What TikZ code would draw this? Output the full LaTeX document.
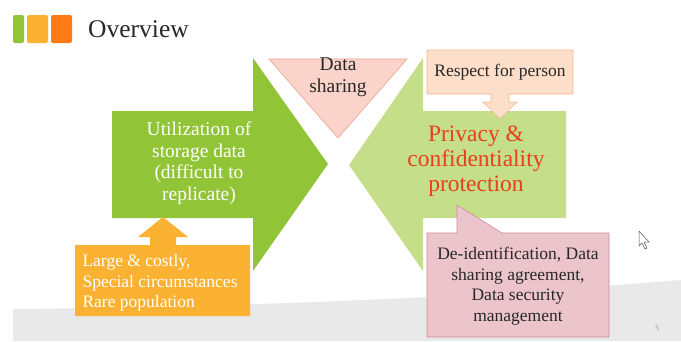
\documentclass[tikz,border=0pt]{standalone}
\usepackage{fontspec}
\setmainfont{Liberation Serif}
\definecolor{leafgreen}{RGB}{146,196,56}
\definecolor{palegreen}{RGB}{196,222,138}
\definecolor{amber}{RGB}{251,177,49}
\definecolor{tangerine}{RGB}{253,122,20}
\definecolor{salmonfill}{RGB}{250,212,202}
\definecolor{salmonline}{RGB}{240,160,140}
\definecolor{peachfill}{RGB}{253,222,200}
\definecolor{peachline}{RGB}{248,185,140}
\definecolor{rosefill}{RGB}{236,196,204}
\definecolor{roseline}{RGB}{200,140,150}
\definecolor{alertred}{RGB}{232,64,28}
\definecolor{bandgray}{RGB}{233,233,233}
\definecolor{inkdark}{RGB}{40,40,40}
\begin{document}
\begin{tikzpicture}[x=1pt,y=-1pt,
  tile/.style={rounded corners=2pt},
  bigtext/.style={align=center,font=\fontsize{19.5}{21.5}\selectfont},
  redtext/.style={align=center,text=alertred,font=\fontsize{23.5}{25}\selectfont},
  smalltext/.style={font=\fontsize{17.5}{20.5}\selectfont}]
\useasboundingbox (0,0) rectangle (681,341);
\fill[white] (0,0) rectangle (681,341);

% grey band along the bottom
\fill[bandgray] (13,309) .. controls (300,306) and (500,295) .. (681,280) -- (681,341) -- (13,341) -- cycle;

% title tiles and heading
\fill[leafgreen,tile] (13,15) rectangle (24,43);
\fill[amber,tile] (27,15) rectangle (48,43);
\fill[tangerine,tile] (51,15) rectangle (72,43);
\node[anchor=base west,inner sep=0,text=inkdark,font=\fontsize{25.5}{28}\selectfont] (title) at (88,37) {Overview};

% green arrow pointing right
\fill[leafgreen] (112,111) -- (253,111) -- (253,58) -- (328,164) -- (253,271) -- (253,218) -- (112,218) -- cycle;
\node[bigtext,text=white] (usage) at (199,163) {Utilization of\\storage data\\(difficult to\\replicate)};

% pale green arrow pointing left
\fill[palegreen] (566,111) -- (423,111) -- (423,58) -- (349,165) -- (423,271) -- (423,218) -- (566,218) -- cycle;
\node[redtext] (privacy) at (476,161) {Privacy \&\\confidentiality\\protection};

% downward triangle
\filldraw[fill=salmonfill,draw=salmonline,line width=0.6pt] (269,59) -- (407,59) -- (338,138) -- cycle;
\node[bigtext,text=inkdark] (sharing) at (338,77) {Data\\sharing};

% callout with down arrow
\filldraw[fill=peachfill,draw=peachline,line width=0.6pt]
  (427,50) -- (573,50) -- (573,94) -- (509,94) -- (509,102) -- (517,102) -- (500,119)
  -- (483,102) -- (491,102) -- (491,94) -- (427,94) -- cycle;
\node[smalltext,text=inkdark] (respect) at (500,72) {Respect for person};

% callout with up arrow
\fill[amber] (75,245) -- (150,245) -- (150,237) -- (138,237) -- (163,217) -- (188,237)
  -- (176,237) -- (176,245) -- (250,245) -- (250,316) -- (75,316) -- cycle;
\node[smalltext,align=left,text=white,anchor=west] (needs) at (79,283) {Large \& costly,\\Special circumstances\\Rare population};

% speech-bubble callout
\filldraw[fill=rosefill,draw=roseline,line width=0.6pt]
  (427,233) -- (457,233) -- (457,205) -- (502,233) -- (609,233) -- (609,337) -- (427,337) -- cycle;
\node[smalltext,align=center,text=inkdark] (measures) at (518,286) {De-identification, Data\\sharing agreement,\\Data security\\management};

% pointer
\filldraw[fill=white,draw=inkdark!80,line width=0.5pt,line join=round]
  (639,231) -- (639,246) -- (642,243) -- (645,249) -- (647,248) -- (644,242) -- (649,242) -- cycle;

% page number
\node[text=gray,font=\fontsize{7}{8}\selectfont] (pageno) at (657,328) {5};
\end{tikzpicture}
\end{document}
